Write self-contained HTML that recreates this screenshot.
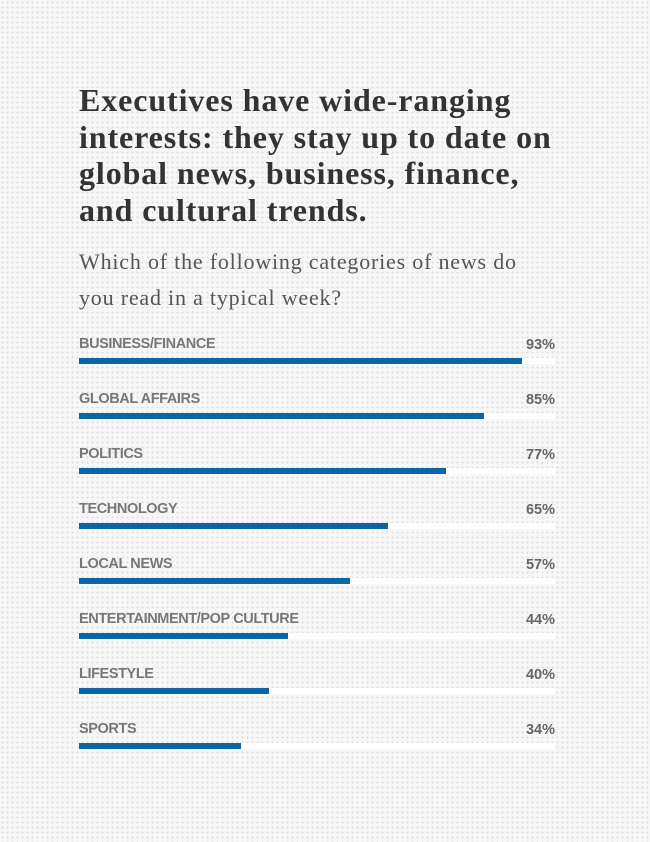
<!DOCTYPE html>
<html><head><meta charset="utf-8"><style>
body{margin:0;width:650px;height:842px;overflow:hidden;background-color:#f7f7f7;background-image:radial-gradient(circle,#dcdcdc 0.8px,transparent 1.1px);background-size:5px 5px;font-family:"Liberation Sans",sans-serif;position:relative}
h1{position:absolute;left:79px;top:82px;margin:0;white-space:nowrap;font-family:"Liberation Serif",serif;font-weight:bold;font-size:32px;letter-spacing:0.9px;line-height:36.5px;color:#333}
.sub{position:absolute;left:79px;top:244px;white-space:nowrap;font-family:"Liberation Serif",serif;font-size:22px;letter-spacing:0.8px;line-height:36px;color:#555}
.row{position:absolute;left:79px;width:476px;height:40px}
.lab{position:absolute;left:0;top:0;font-size:14.5px;font-weight:bold;color:#777;letter-spacing:-0.4px;line-height:16px}
.pct{position:absolute;right:0;top:1px;font-size:14.5px;font-weight:bold;color:#666;line-height:16px}
.track{position:absolute;left:0;top:22px;width:476px;height:6px;background:#fff}
.bar{position:absolute;left:0;top:0;height:6px;background:#0b65a6}
</style></head><body>
<h1>Executives have wide-ranging<br>interests: they stay up to date on<br>global news, business, finance,<br>and cultural trends.</h1>
<div class="sub">Which of the following categories of news do<br>you read in a typical week?</div>
<div class="row" style="top:336px"><div class="lab">BUSINESS/FINANCE</div><div class="pct">93%</div><div class="track"><div class="bar" style="width:443px"></div></div></div>
<div class="row" style="top:391px"><div class="lab">GLOBAL AFFAIRS</div><div class="pct">85%</div><div class="track"><div class="bar" style="width:405px"></div></div></div>
<div class="row" style="top:446px"><div class="lab">POLITICS</div><div class="pct">77%</div><div class="track"><div class="bar" style="width:367px"></div></div></div>
<div class="row" style="top:501px"><div class="lab">TECHNOLOGY</div><div class="pct">65%</div><div class="track"><div class="bar" style="width:309px"></div></div></div>
<div class="row" style="top:556px"><div class="lab">LOCAL NEWS</div><div class="pct">57%</div><div class="track"><div class="bar" style="width:271px"></div></div></div>
<div class="row" style="top:611px"><div class="lab">ENTERTAINMENT/POP CULTURE</div><div class="pct">44%</div><div class="track"><div class="bar" style="width:209px"></div></div></div>
<div class="row" style="top:666px"><div class="lab">LIFESTYLE</div><div class="pct">40%</div><div class="track"><div class="bar" style="width:190px"></div></div></div>
<div class="row" style="top:721px"><div class="lab">SPORTS</div><div class="pct">34%</div><div class="track"><div class="bar" style="width:162px"></div></div></div>
</body></html>
